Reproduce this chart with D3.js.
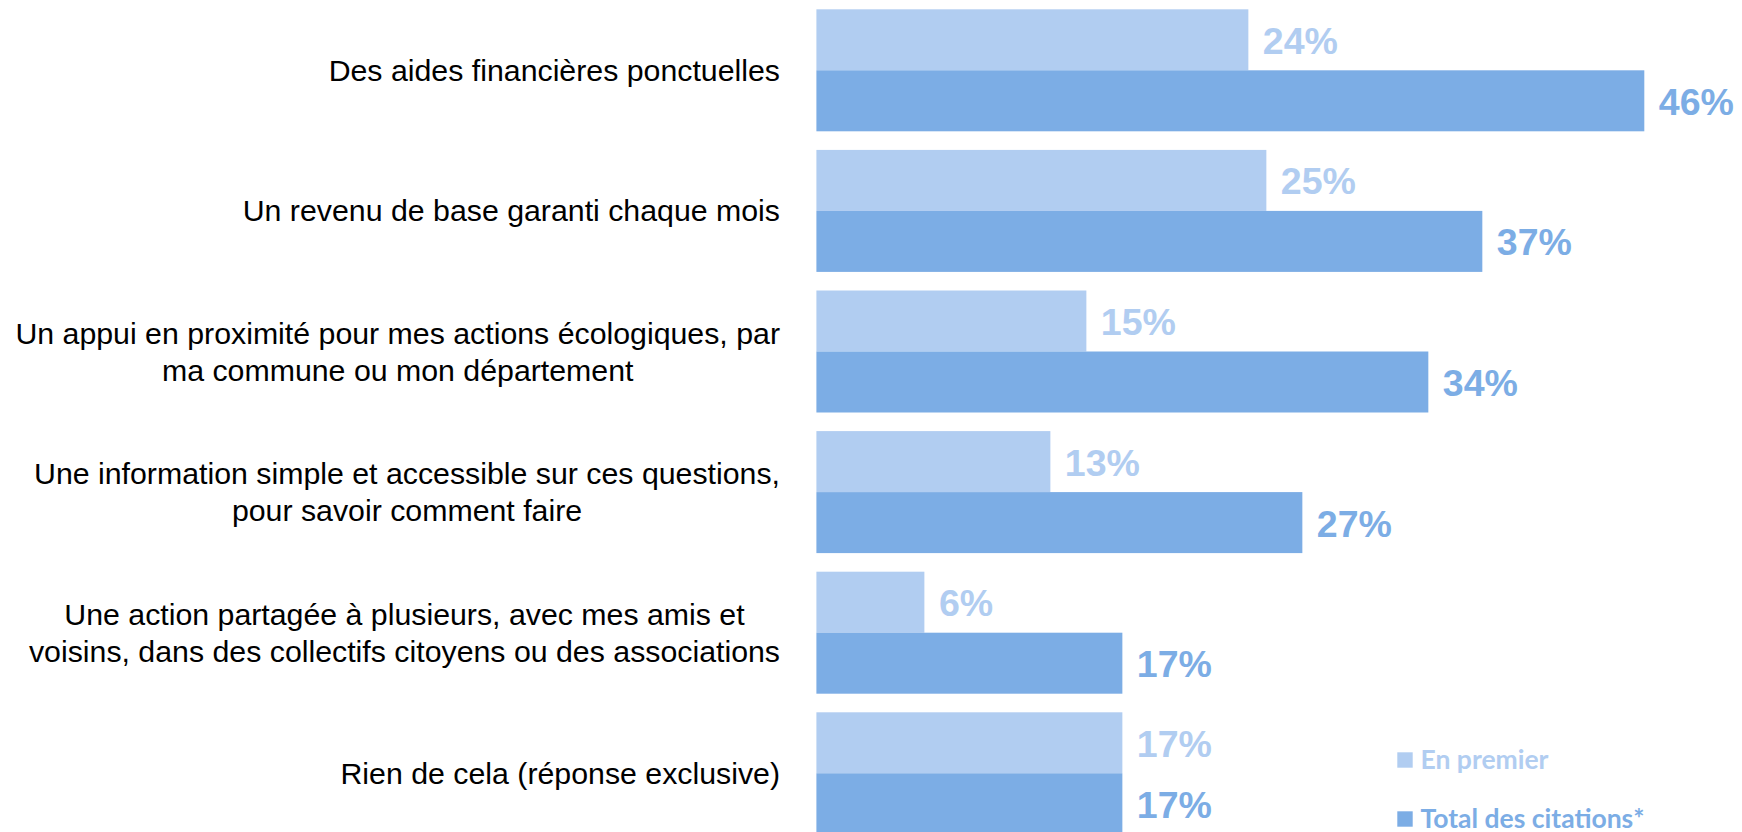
<!DOCTYPE html>
<html>
<head>
<meta charset="utf-8">
<script src="https://cdn.jsdelivr.net/npm/d3@7"></script>
<style>
  html, body { margin: 0; padding: 0; background: #ffffff; }
  svg { display: block; }
</style>
</head>
<body>
<svg id="chart" width="1742" height="832"></svg>
<script>
// ---- Data ----
const categories = [
  "Des aides financières ponctuelles",
  "Un revenu de base garanti chaque mois",
  "Un appui en proximité pour mes actions écologiques, par\nma commune ou mon département",
  "Une information simple et accessible sur ces questions,\npour savoir comment faire",
  "Une action partagée à plusieurs, avec mes amis et\nvoisins, dans des collectifs citoyens ou des associations",
  "Rien de cela (réponse exclusive)"
];
const enPremier = [24, 25, 15, 13, 6, 17];
const totalCitations = [46, 37, 34, 27, 17, 17];
const seriesNames = ["En premier", "Total des citations*"];
const seriesColors = ["#b1cdf1", "#7cade5"];

// ---- Layout ----
const W = 1742, H = 832;
const barLeft = 816.4;
const pxPerPct = 17.998;
const labelRight = 780;

const svg = d3.select("#chart");

const x = d3.scaleLinear().domain([0, 50]).range([barLeft, barLeft + 50 * pxPerPct]);
const y = d3.scaleBand().domain(categories).range([0, 843.6]).paddingInner(0.1323).paddingOuter(0.0662);
const ySub = d3.scaleBand().domain(seriesNames).range([0, y.bandwidth()]).padding(0);

const rows = categories.map((c, i) => ({ cat: c, values: [enPremier[i], totalCitations[i]] }));

const g = svg.append("g");

const groups = g.selectAll("g.row").data(rows).join("g")
  .attr("class", "row")
  .attr("transform", d => `translate(0,${y(d.cat)})`);

groups.selectAll("rect").data(d => d.values.map((v, j) => ({ v, s: seriesNames[j], j })))
  .join("rect")
  .attr("x", x(0))
  .attr("y", d => ySub(d.s))
  .attr("width", d => x(d.v) - x(0))
  .attr("height", ySub.bandwidth())
  .attr("fill", d => seriesColors[d.j]);

groups.selectAll("text.val").data(d => d.values.map((v, j) => ({ v, s: seriesNames[j], j })))
  .join("text")
  .attr("class", "val")
  .attr("x", d => x(d.v) + 14.5)
  .attr("y", d => ySub(d.s) + ySub.bandwidth() / 2 + 14)
  .attr("font-family", "'Liberation Sans', Arial, sans-serif")
  .attr("font-weight", "bold")
  .attr("font-size", 37.5)
  .attr("fill", d => seriesColors[d.j])
  .text(d => d.v + "%");

// Category labels
const lineH = 37;
groups.each(function(d) {
  const lines = d.cat.split("\n");
  const t = d3.select(this).append("text")
    .attr("font-family", "'Liberation Sans', Arial, sans-serif")
    .attr("font-size", 30.3)
    .attr("fill", "#000000")
    .attr("text-anchor", "middle");
  const cy = y.bandwidth() / 2;
  lines.forEach((ln, k) => {
    t.append("tspan")
      .attr("y", cy + (k - (lines.length - 1) / 2) * lineH)
      .attr("dy", "0.35em")
      .text(ln);
  });
  let maxW = 0;
  t.selectAll("tspan").each(function() { maxW = Math.max(maxW, this.getComputedTextLength()); });
  t.selectAll("tspan").attr("x", labelRight - maxW / 2);
});

// Legend
const legend = svg.append("g").attr("class", "legend");
const legendY = [760, 819];
seriesNames.forEach((name, j) => {
  legend.append("rect")
    .attr("x", 1397.3).attr("y", legendY[j] - 7.7)
    .attr("width", 15.4).attr("height", 15.4)
    .attr("fill", seriesColors[j]);
  legend.append("text")
    .attr("x", 1420.5).attr("y", legendY[j] + 8.5)
    .attr("font-family", "Lato, 'Open Sans', sans-serif")
    .attr("font-weight", "bold")
    .attr("font-size", 26.5)
    .attr("fill", seriesColors[j])
    .text(name);
});
</script>
</body>
</html>
